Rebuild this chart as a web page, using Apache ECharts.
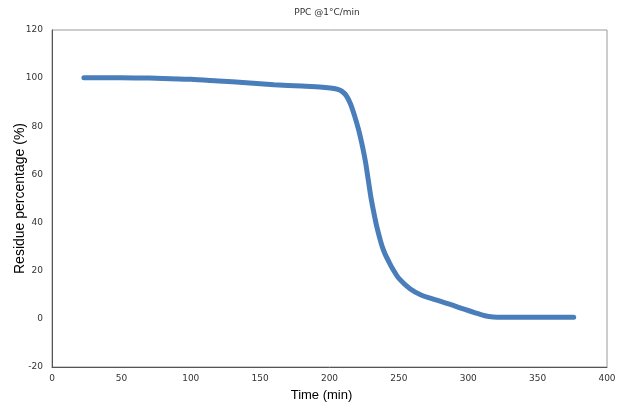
<!DOCTYPE html>
<html>
<head>
<meta charset="utf-8">
<script src="https://cdn.jsdelivr.net/npm/echarts@6/dist/echarts.min.js"></script>
<style>
  html, body { margin: 0; padding: 0; background: #fff; }
  #chart { width: 622px; height: 403px; }
</style>
</head>
<body>
<div id="chart"></div>
<script>
const timeMin = [23, 40, 60, 80, 100, 120, 140, 160, 180, 195, 202, 206, 209, 212, 215, 218, 221, 224, 226, 228, 230, 232, 234, 236, 238, 240, 243, 246, 250, 258, 266, 276, 287, 297, 305, 312, 318, 325, 340, 360, 376]
const residue = [100.2, 100.2, 100.1, 99.9, 99.5, 98.8, 98.1, 97.3, 96.7, 96.2, 95.8, 95.3, 94.5, 92.8, 89.5, 84.5, 78.5, 71, 65, 57.5, 50, 44, 38.5, 34, 30, 27, 23.5, 20.3, 16.8, 12.5, 9.9, 8, 6, 4, 2.5, 1.3, 0.8, 0.7, 0.7, 0.7, 0.7]

const xTicks = [0, 400, 50]
const yTicks = [-20, 120, 20]

const chart = echarts.init(document.getElementById('chart'))

const labelFont = { color: '#333', fontSize: 9, fontFamily: 'DejaVu Sans' }

chart.setOption({
  animation: false,
  title: {
    text: 'PPC @1°C/min',
    left: 322,
    textAlign: 'center',
    top: 3,
    textStyle: { color: '#333', fontSize: 9, fontWeight: 'normal', fontFamily: 'DejaVu Sans' }
  },
  grid: {
    left: 52, right: 15, top: 30, bottom: 36,
    outerBoundsMode: 'none',
    containLabel: false,
    show: true,
    borderColor: '#9a9a9a',
    borderWidth: 1
  },
  xAxis: {
    type: 'value',
    min: xTicks[0], max: xTicks[1], interval: xTicks[2],
    name: 'Time (min)',
    nameLocation: 'middle',
    nameGap: 22,
    nameMoveOverlap: false,
    nameTextStyle: { color: '#000', fontSize: 13, fontFamily: 'Liberation Sans', padding: [0, 16, 0, 0] },
    axisLine: { onZero: false, lineStyle: { color: '#555' } },
    axisTick: { show: false },
    splitLine: { show: false },
    axisLabel: Object.assign({ margin: 7 }, labelFont)
  },
  yAxis: {
    type: 'value',
    min: yTicks[0], max: yTicks[1], interval: yTicks[2],
    name: 'Residue percentage (%)',
    nameLocation: 'middle',
    nameGap: 25,
    nameMoveOverlap: false,
    nameTextStyle: { color: '#000', fontSize: 14, fontFamily: 'Liberation Sans' },
    axisLine: { show: true, lineStyle: { color: '#555' } },
    axisTick: { show: false },
    splitLine: { show: false },
    axisLabel: Object.assign({ margin: 9 }, labelFont)
  },
  series: [{
    type: 'line',
    data: timeMin.map((t, i) => [t, residue[i]]),
    smooth: 0.3,
    showSymbol: false,
    lineStyle: { color: '#4a7ebb', width: 5, cap: 'round' }
  }]
})
</script>
</body>
</html>
